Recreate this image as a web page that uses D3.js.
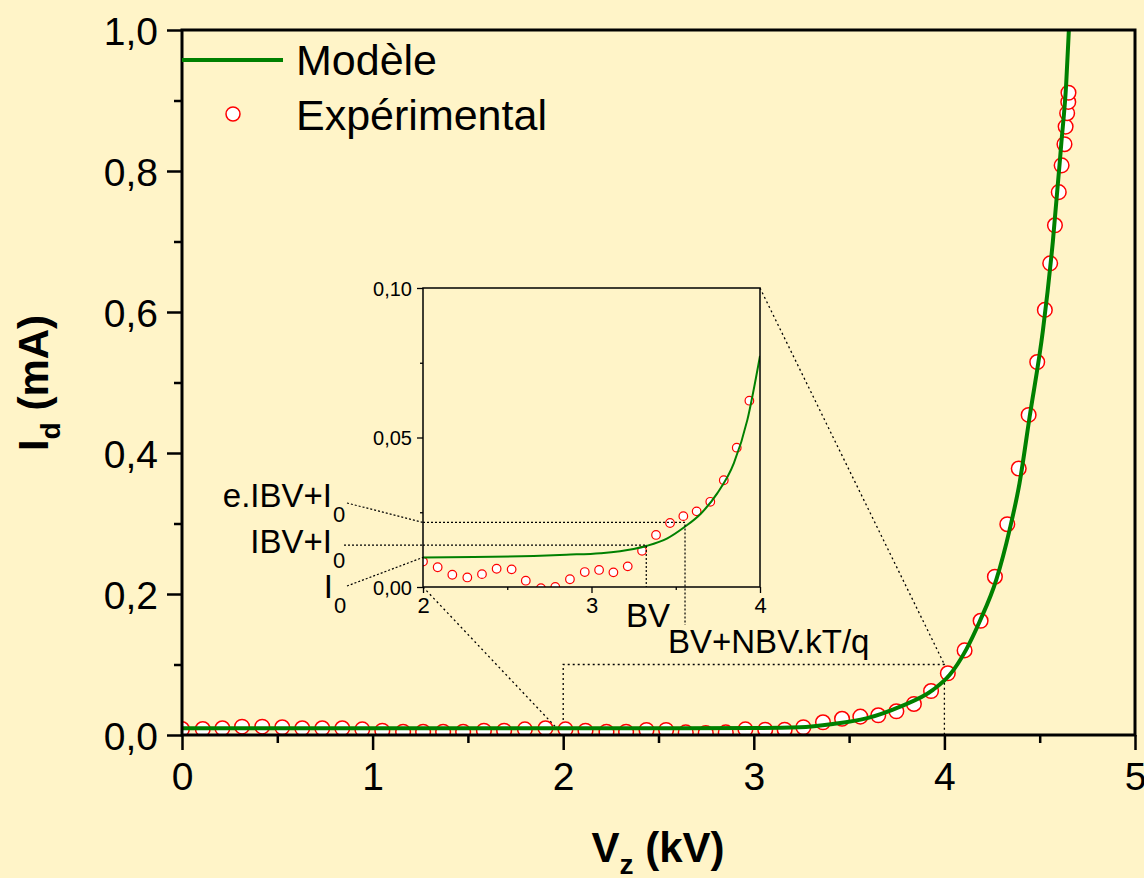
<!DOCTYPE html>
<html>
<head>
<meta charset="utf-8">
<script src="https://cdn.jsdelivr.net/npm/d3@7"></script>
<style>
  body { margin: 0; background: #FFF4C8; }
  svg { display: block; font-family: "Liberation Sans", Arial, sans-serif; }
</style>
</head>
<body>
<script>
// Main plot: experimental points (Vz in kV, Id in mA)
const expV = [0.0, 0.109, 0.212, 0.315, 0.421, 0.526, 0.631, 0.736, 0.841, 0.946,
  1.051, 1.16, 1.265, 1.37, 1.475, 1.584, 1.69, 1.799, 1.907, 2.012,
  2.117, 2.227, 2.33, 2.437, 2.54, 2.643, 2.748, 2.853, 2.956, 3.06,
  3.162, 3.26, 3.363, 3.463, 3.559, 3.653, 3.748, 3.84, 3.93, 4.018,
  4.106, 4.19, 4.265, 4.33, 4.39, 4.442, 4.487, 4.527, 4.555, 4.58,
  4.60, 4.615, 4.63, 4.636, 4.644, 4.65, 4.651];
const expI = [0.0085, 0.0085, 0.0095, 0.0118, 0.0118, 0.0109, 0.0095, 0.0095, 0.0095, 0.0080,
  0.0061, 0.0047, 0.0047, 0.0047, 0.0047, 0.0061, 0.0061, 0.0080, 0.0095, 0.0080,
  0.0061, 0.0047, 0.0047, 0.0071, 0.0071, 0.0038, 0.0028, 0.0038, 0.0080, 0.0075,
  0.0075, 0.011, 0.018, 0.023, 0.026, 0.028, 0.0336, 0.044, 0.0624, 0.0875,
  0.120, 0.162, 0.2245, 0.299, 0.378, 0.454, 0.529, 0.603, 0.669, 0.723,
  0.77, 0.808, 0.838, 0.863, 0.882, 0.898, 0.911];

// Main plot: model curve
const modV = [0.0, 1.0, 2.0, 3.0, 3.24, 3.415, 3.59, 3.765, 3.94, 4.027,
  4.115, 4.185, 4.272, 4.342, 4.394, 4.447, 4.517, 4.569, 4.613, 4.639, 4.653, 4.66];
const modI = [0.0095, 0.0095, 0.0095, 0.0100, 0.011, 0.0156, 0.0236, 0.040, 0.064, 0.085,
  0.1215, 0.161, 0.22, 0.291, 0.357, 0.451, 0.574, 0.70, 0.838, 0.924, 1.0, 1.04];

// Inset: experimental points
const insV = [2.0, 2.087, 2.174, 2.263, 2.35, 2.437, 2.526, 2.61, 2.70, 2.785,
  2.872, 2.96, 3.045, 3.13, 3.215, 3.30, 3.383, 3.466, 3.545, 3.624,
  3.705, 3.785, 3.862, 3.937];
const insI = [0.0085, 0.0066, 0.0041, 0.0032, 0.0043, 0.0061, 0.0059, 0.0021, -0.0004, 0.0000,
  0.0026, 0.0050, 0.0057, 0.0049, 0.0069, 0.0121, 0.0174, 0.0214, 0.0237, 0.0253,
  0.0285, 0.0357, 0.0466, 0.0623];

// Inset: model curve
const insModV = [2.0, 2.3, 2.657, 2.85, 3.053, 3.25, 3.33, 3.45, 3.55, 3.65, 3.746, 3.845, 3.925, 4.0];
const insModI = [0.0099, 0.0100, 0.0104, 0.0108, 0.0113, 0.0127, 0.0138, 0.0163, 0.0200, 0.0246, 0.0313, 0.0414, 0.0559, 0.0773];

// Parameter markers
const I0 = 0.0099, IBVI0 = 0.014, eIBVI0 = 0.0216;
const BV = 3.325, BVN = 3.555;

const xTicks = [0, 1, 2, 3, 4, 5];
const yTicks = [0, 0.2, 0.4, 0.6, 0.8, 1.0];
const insXTicks = [2, 3, 4];
const insYTicks = [0, 0.05, 0.10];

const W = 1144, H = 878;
const svg = d3.select('body').append('svg').attr('width', W).attr('height', H);
svg.append('rect').attr('width', W).attr('height', H).attr('fill', '#FFF4C8');

const x = d3.scaleLinear().domain([0, 5]).range([182, 1135]);
const y = d3.scaleLinear().domain([0, 1]).range([735, 30]);
const xi = d3.scaleLinear().domain([2, 4]).range([423, 760]);
const yi = d3.scaleLinear().domain([0, 0.1]).range([587, 288]);

const comma = d => d3.format(',.1f')(d).replace('.', ',');
const comma2 = d => d3.format('.2f')(d).replace('.', ',');

svg.append('clipPath').attr('id', 'clipMain').append('rect')
  .attr('x', x(0)).attr('y', y(1)).attr('width', x(5) - x(0)).attr('height', y(0) - y(1));
svg.append('clipPath').attr('id', 'clipIns').append('rect')
  .attr('x', xi(2)).attr('y', yi(0.1)).attr('width', xi(4) - xi(2)).attr('height', yi(0) - yi(0.1));

// ---- dotted zoom guides ----
const dots = svg.append('g').attr('stroke', '#000').attr('stroke-width', 1.3)
  .attr('stroke-dasharray', '2,3').attr('fill', 'none');
dots.append('path').attr('d', `M${x(2)},${y(0)}V${y(0.1)}H${x(4)}V${y(0)}`);
dots.append('line').attr('x1', xi(2)).attr('y1', yi(0)).attr('x2', x(2)).attr('y2', y(0));
dots.append('line').attr('x1', xi(4)).attr('y1', yi(0.1)).attr('x2', x(4)).attr('y2', y(0.1));

// ---- main plot marks ----
const main = svg.append('g').attr('clip-path', 'url(#clipMain)');
main.selectAll('circle').data(expV).join('circle')
  .attr('cx', (d, i) => x(d)).attr('cy', (d, i) => y(expI[i])).attr('r', 7.3)
  .attr('fill', '#fff').attr('stroke', '#ff0000').attr('stroke-width', 1.5);
const line = d3.line().curve(d3.curveMonotoneX);
main.append('path')
  .attr('d', line(modV.map((v, i) => [x(v), y(modI[i])])))
  .attr('fill', 'none').attr('stroke', '#008000').attr('stroke-width', 4);

// ---- main axes ----
const gx = svg.append('g').attr('transform', `translate(0,${y(0)})`)
  .call(d3.axisBottom(x).tickValues(xTicks).tickFormat(d3.format('d')).tickSize(15).tickPadding(12));
const gxm = svg.append('g').attr('transform', `translate(0,${y(0)})`)
  .call(d3.axisBottom(x).tickValues(d3.range(0.5, 5, 1)).tickFormat('').tickSize(8));
const gy = svg.append('g').attr('transform', `translate(${x(0)},0)`)
  .call(d3.axisLeft(y).tickValues(yTicks).tickFormat(comma).tickSize(15).tickPadding(9));
const gym = svg.append('g').attr('transform', `translate(${x(0)},0)`)
  .call(d3.axisLeft(y).tickValues(d3.range(0.1, 1, 0.2)).tickFormat('').tickSize(8));
[gx, gxm, gy, gym].forEach(g => {
  g.select('.domain').remove();
  g.selectAll('line').attr('stroke', '#000').attr('stroke-width', 2.5);
  g.selectAll('text').attr('fill', '#000').attr('font-size', 39)
    .attr('font-family', '"Liberation Sans", Arial, sans-serif');
});
gy.selectAll('text').attr('dy', '0.36em');
svg.append('rect').attr('x', x(0)).attr('y', y(1)).attr('width', x(5) - x(0)).attr('height', y(0) - y(1))
  .attr('fill', 'none').attr('stroke', '#000').attr('stroke-width', 3);

// ---- axis titles ----
const xt = svg.append('text').attr('x', 658).attr('y', 862).attr('text-anchor', 'middle')
  .attr('font-size', 42).attr('font-weight', 'bold');
xt.append('tspan').text('V');
xt.append('tspan').attr('dy', 12).attr('font-size', 28).text('z');
xt.append('tspan').attr('dy', -12).text(' (kV)');

const yt = svg.append('text').attr('transform', `translate(48,383) rotate(-90)`)
  .attr('text-anchor', 'middle').attr('font-size', 42).attr('font-weight', 'bold');
yt.append('tspan').text('I');
yt.append('tspan').attr('dy', 12).attr('font-size', 28).text('d');
yt.append('tspan').attr('dy', -12).text(' (mA)');

// ---- legend ----
const leg = svg.append('g').attr('font-size', 43);
leg.append('line').attr('x1', 182).attr('x2', 283).attr('y1', 60).attr('y2', 60)
  .attr('stroke', '#008000').attr('stroke-width', 4);
leg.append('text').attr('x', 296).attr('y', 75).text('Modèle');
leg.append('circle').attr('cx', 233).attr('cy', 114).attr('r', 7)
  .attr('fill', '#fff').attr('stroke', '#ff0000').attr('stroke-width', 1.5);
leg.append('text').attr('x', 296).attr('y', 130).text('Expérimental');

// ---- inset ----
svg.append('rect').attr('x', xi(2)).attr('y', yi(0.1)).attr('width', xi(4) - xi(2)).attr('height', yi(0) - yi(0.1))
  .attr('fill', '#FFF4C8');
const ins = svg.append('g').attr('clip-path', 'url(#clipIns)');
const idots = svg.append('g').attr('stroke', '#000').attr('stroke-width', 1.2)
  .attr('stroke-dasharray', '2,2').attr('fill', 'none');
idots.append('path').attr('d', `M${xi(2)},${yi(eIBVI0)}H${xi(BVN)}V625`);
idots.append('path').attr('d', `M${xi(2)},${yi(IBVI0)}H${xi(BV)}V${yi(0)}`);
idots.append('line').attr('x1', 347).attr('y1', 503).attr('x2', xi(2)).attr('y2', yi(eIBVI0));
idots.append('line').attr('x1', 344).attr('y1', yi(IBVI0)).attr('x2', xi(2)).attr('y2', yi(IBVI0));
idots.append('line').attr('x1', 347).attr('y1', 586).attr('x2', xi(2)).attr('y2', yi(I0));

ins.selectAll('circle').data(insV).join('circle')
  .attr('cx', d => xi(d)).attr('cy', (d, i) => yi(insI[i])).attr('r', 4.3)
  .attr('fill', '#fff').attr('stroke', '#ff0000').attr('stroke-width', 1.2);
ins.append('path')
  .attr('d', line(insModV.map((v, i) => [xi(v), yi(insModI[i])])))
  .attr('fill', 'none').attr('stroke', '#008000').attr('stroke-width', 2);

const ix = svg.append('g').attr('transform', `translate(0,${yi(0)})`)
  .call(d3.axisBottom(xi).tickValues(insXTicks).tickFormat(d3.format('d')).tickSize(6).tickPadding(4));
const ixm = svg.append('g').attr('transform', `translate(0,${yi(0)})`)
  .call(d3.axisBottom(xi).tickValues([2.5, 3.5]).tickFormat('').tickSize(3));
const iy = svg.append('g').attr('transform', `translate(${xi(2)},0)`)
  .call(d3.axisLeft(yi).tickValues(insYTicks).tickFormat(comma2).tickSize(6).tickPadding(5));
const iym = svg.append('g').attr('transform', `translate(${xi(2)},0)`)
  .call(d3.axisLeft(yi).tickValues([0.025, 0.075]).tickFormat('').tickSize(3));
[ix, ixm, iy, iym].forEach(g => {
  g.select('.domain').remove();
  g.selectAll('line').attr('stroke', '#000').attr('stroke-width', 1.3);
  g.selectAll('text').attr('fill', '#000')
    .attr('font-family', '"Liberation Sans", Arial, sans-serif');
});
ix.selectAll('text').attr('font-size', 22);
iy.selectAll('text').attr('font-size', 20).attr('dy', '0.36em');
svg.append('rect').attr('x', xi(2)).attr('y', yi(0.1)).attr('width', xi(4) - xi(2)).attr('height', yi(0) - yi(0.1))
  .attr('fill', 'none').attr('stroke', '#000').attr('stroke-width', 1.5);

// ---- parameter labels ----
const lab = svg.append('g').attr('font-size', 33);
function subLabel(xEnd, yBase, main, sub) {
  lab.append('text').attr('x', xEnd).attr('y', yBase).attr('text-anchor', 'end').text(main);
  lab.append('text').attr('x', xEnd + 1).attr('y', yBase + 15).attr('font-size', 22).text(sub);
}
subLabel(332, 507, 'e.IBV+I', '0');
subLabel(332, 553, 'IBV+I', '0');
subLabel(333, 598, 'I', '0');
lab.append('text').attr('x', 626).attr('y', 627).text('BV');
lab.append('text').attr('x', 668).attr('y', 653).text('BV+NBV.kT/q');
</script>
</body>
</html>
